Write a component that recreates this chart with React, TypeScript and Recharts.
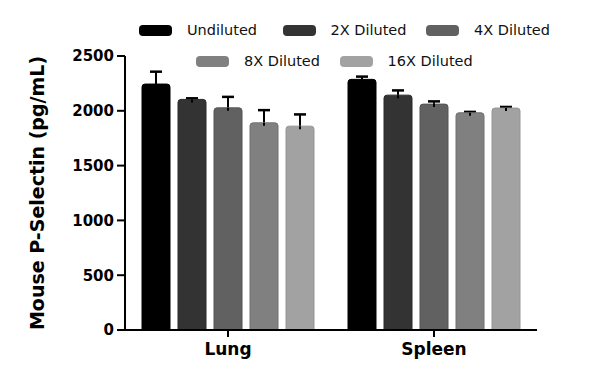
import { BarChart, Bar, XAxis, YAxis, Rectangle } from 'recharts'

const categories = ['Lung', 'Spleen']
const undiluted = [2244, 2287]
const undilutedErr = [113, 25]
const diluted2x = [2104, 2143]
const diluted2xErr = [10, 43]
const diluted4x = [2027, 2061]
const diluted4xErr = [100, 25]
const diluted8x = [1890, 1982]
const diluted8xErr = [116, 8]
const diluted16x = [1860, 2025]
const diluted16xErr = [107, 10]
const yTicks = [0, 500, 1000, 1500, 2000, 2500]

const seriesNames = ['Undiluted', '2X Diluted', '4X Diluted', '8X Diluted', '16X Diluted']
const seriesColors = ['#000000', '#333333', '#616161', '#808080', '#a2a2a2']
const seriesBorders = ['#000000', '#2a2a2a', '#555555', '#717171', '#959595']

const values = [undiluted, diluted2x, diluted4x, diluted8x, diluted16x]
const errors = [undilutedErr, diluted2xErr, diluted4xErr, diluted8xErr, diluted16xErr]

const data = categories.map((name, i) => {
  const row: Record<string, string | number> = { name }
  values.forEach((v, s) => {
    row[`s${s}`] = v[i]
    row[`e${s}`] = errors[s][i]
  })
  return row
})

const fontFamily = '"DejaVu Sans", sans-serif'

function BarWithError(props: any) {
  const { x, y, width, height, fill, stroke, payload, series } = props
  const val = payload[`s${series}`] as number
  const err = payload[`e${series}`] as number
  const errPx = val ? (height * err) / val : 0
  const cx = x + width / 2
  const top = y - errPx
  return (
    <g>
      <line x1={cx} x2={cx} y1={y} y2={top} stroke="#000" strokeWidth={2} />
      <line x1={cx - 6} x2={cx + 6} y1={top} y2={top} stroke="#000" strokeWidth={2.5} />
      <Rectangle x={x} y={y} width={width} height={height} fill={fill} stroke={stroke} strokeWidth={1} radius={[3, 3, 0, 0]} />
      <line x1={cx} x2={cx} y1={y} y2={y + 3} stroke="#000" strokeWidth={2} />
    </g>
  )
}

function LegendOverlay() {
  const rows = [
    { left: 139, top: 24, items: [0, 1, 2] },
    { left: 196, top: 55, items: [3, 4] },
  ]
  return (
    <div style={{ position: 'absolute', top: 0, left: 0, width: 600, pointerEvents: 'none' }}>
      {rows.map((row, r) => (
        <div key={r} style={{ position: 'absolute', top: row.top, left: row.left, display: 'flex' }}>
          {row.items.map((s) => (
            <div key={s} style={{ width: 143.5, display: 'flex', alignItems: 'center', height: 12 }}>
              <span
                style={{
                  display: 'inline-block',
                  width: 33,
                  height: 11,
                  borderRadius: 4,
                  background: seriesColors[s],
                  marginRight: 15,
                }}
              />
              <span style={{ fontFamily, fontSize: 14.5, color: '#111', lineHeight: '12px', whiteSpace: 'nowrap' }}>
                {seriesNames[s]}
              </span>
            </div>
          ))}
        </div>
      ))}
    </div>
  )
}

export default function App() {
  return (
    <div style={{ position: 'absolute', top: 0, left: 0, width: 600, height: 388, background: '#fff' }}>
      <BarChart
        width={600}
        height={388}
        data={data}
        margin={{ top: 56, right: 63, bottom: 0, left: 0 }}
        barSize={28}
        barGap={8}
      >
        <XAxis
          dataKey="name"
          axisLine={{ stroke: '#000', strokeWidth: 2 }}
          tickLine={{ stroke: '#000', strokeWidth: 2 }}
          tickSize={7}
          tick={{ fill: '#000', fontSize: 17, fontWeight: 'bold', fontFamily }}
          tickMargin={6}
          height={58}
        />
        <YAxis
          domain={[0, 2500]}
          ticks={yTicks}
          interval={0}
          width={125}
          axisLine={{ stroke: '#000', strokeWidth: 2 }}
          tickLine={{ stroke: '#000', strokeWidth: 2 }}
          tickSize={8}
          tickMargin={3}
          tick={{ fill: '#000', fontSize: 15, fontWeight: 'bold', fontFamily }}
          label={{
            value: 'Mouse P-Selectin (pg/mL)',
            angle: -90,
            position: 'insideLeft',
            offset: 37,
            style: { textAnchor: 'middle', fill: '#000', fontSize: 19, fontWeight: 'bold', fontFamily },
          }}
        />
        {seriesNames.map((n, s) => (
          <Bar
            key={n}
            dataKey={`s${s}`}
            name={n}
            fill={seriesColors[s]}
            stroke={seriesBorders[s]}
            isAnimationActive={false}
            shape={(p: any) => <BarWithError {...p} series={s} />}
          />
        ))}
      </BarChart>
      <LegendOverlay />
    </div>
  )
}
